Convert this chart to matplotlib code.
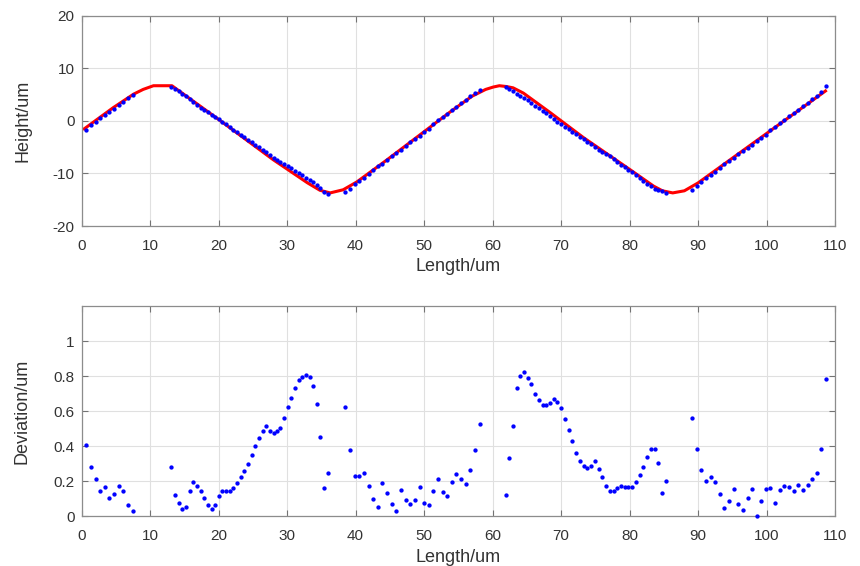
import matplotlib
matplotlib.use('Agg')
import matplotlib.pyplot as plt
from matplotlib.ticker import FormatStrFormatter

plt.rcParams['font.family'] = ['Liberation Sans', 'DejaVu Sans']
plt.rcParams['axes.unicode_minus'] = False

# fitted profile (red line)
fit_x = [0.4, 4.6, 7.6, 9.0, 10.5, 13.2, 20.2, 28.0, 33.0, 34.8, 36.3, 38.2, 40.2,
         44.6, 53.8, 57.0, 59.0, 60.1, 61.0, 62.0, 63.0, 64.5, 68.4, 73.3, 80.1,
         83.5, 84.8, 86.3, 88.0, 90.0, 108.6]
fit_y = [-1.5, 2.5, 5.1, 6.0, 6.7, 6.7, 0.1, -7.4, -11.8, -13.2, -13.7, -13.1, -11.6,
         -7.4, 1.7, 4.7, 6.0, 6.45, 6.7, 6.55, 6.3, 5.3, 1.6, -3.2, -9.3,
         -12.4, -13.3, -13.7, -13.3, -11.8, 5.7]

# measured points (blue dots)
meas_x = [0.66, 1.39, 2.07, 2.75, 3.38, 4.06, 4.75, 5.43, 6.10, 6.79, 7.47,
          13.07, 13.65, 14.18, 14.72, 15.25, 15.79, 16.33, 16.86, 17.40, 17.93,
          18.47, 19.00, 19.54, 20.02, 20.56, 21.10, 21.63, 22.17, 22.70, 23.24,
          23.77, 24.31, 24.84, 25.38, 25.91, 26.45, 26.98, 27.52, 28.05, 28.59,
          29.03, 29.56, 30.10, 30.63, 31.17, 31.70, 32.24, 32.77, 33.31, 33.84,
          34.38, 34.86, 35.45, 35.98,
          38.52, 39.20, 39.88, 40.56, 41.24, 41.92, 42.60, 43.28, 43.92, 44.60,
          45.28, 45.96, 46.64, 47.32, 48.00, 48.69, 49.37, 50.05, 50.68, 51.36,
          52.04, 52.72, 53.40, 54.08, 54.71, 55.39, 56.07, 56.75, 57.44, 58.12,
          61.92, 62.46, 62.95, 63.53, 64.06, 64.60, 65.13, 65.67, 66.25, 66.79,
          67.33, 67.86, 68.40, 68.93, 69.47, 70.05, 70.58, 71.12, 71.65, 72.19,
          72.77, 73.30, 73.84, 74.37, 74.96, 75.49, 76.03, 76.57, 77.10, 77.69,
          78.23, 78.76, 79.30, 79.83, 80.37, 80.95, 81.49, 82.02, 82.61, 83.14,
          83.68, 84.22, 84.80, 85.33,
          89.12, 89.80, 90.48, 91.16, 91.84, 92.48, 93.16, 93.84, 94.52, 95.20,
          95.88, 96.56, 97.25, 97.93, 98.56, 99.20, 99.88, 100.56, 101.24, 101.92,
          102.60, 103.28, 103.96, 104.65, 105.33, 106.01, 106.69, 107.37, 108.00,
          108.68]
meas_h = [-1.67, -0.87, -0.18, 0.51, 1.06, 1.76, 2.36, 2.94, 3.58, 4.30, 4.95,
          6.42, 6.15, 5.70, 5.21, 4.70, 4.09, 3.53, 3.04, 2.55, 2.08,
          1.62, 1.13, 0.72, 0.31, -0.16, -0.68, -1.19, -1.69, -2.16, -2.65,
          -3.11, -3.59, -4.04, -4.51, -4.96, -5.44, -5.91, -6.46, -6.97, -7.43,
          -7.80, -8.22, -8.64, -9.05, -9.47, -9.88, -10.34, -10.79, -11.24, -11.71,
          -12.23, -12.77, -13.58, -13.84,
          -13.55, -12.90, -12.07, -11.48, -10.84, -10.10, -9.37, -8.66, -8.18, -7.47,
          -6.74, -6.04, -5.50, -4.78, -4.10, -3.46, -2.87, -2.12, -1.49, -0.63,
          0.11, 0.69, 1.33, 2.07, 2.72, 3.35, 3.99, 4.73, 5.37, 5.96,
          6.40, 6.08, 5.79, 5.22, 4.79, 4.38, 3.90, 3.41, 2.91, 2.42,
          1.94, 1.43, 0.88, 0.35, -0.15, -0.68, -1.12, -1.58, -2.04, -2.49,
          -3.01, -3.49, -3.97, -4.46, -5.02, -5.45, -5.90, -6.32, -6.77, -7.31,
          -7.82, -8.30, -8.79, -9.27, -9.76, -10.30, -10.83, -11.36, -11.95, -12.47,
          -12.91, -13.21, -13.43, -13.64,
          -13.10, -12.34, -11.62, -10.91, -10.29, -9.67, -8.96, -8.24, -7.64, -7.06,
          -6.34, -5.67, -5.08, -4.49, -3.75, -3.24, -2.67, -1.71, -1.15, -0.44,
          0.22, 0.86, 1.47, 2.16, 2.77, 3.44, 4.11, 4.79, 5.52,
          6.56]
deviation = [0.41, 0.283, 0.211, 0.145, 0.166, 0.103, 0.126, 0.175, 0.145, 0.063, 0.030,
             0.283, 0.122, 0.074, 0.040, 0.055, 0.145, 0.194, 0.171, 0.147, 0.106,
             0.063, 0.044, 0.063, 0.114, 0.147, 0.147, 0.145, 0.160, 0.190, 0.225,
             0.259, 0.300, 0.350, 0.403, 0.446, 0.489, 0.516, 0.487, 0.474, 0.487,
             0.506, 0.560, 0.623, 0.678, 0.731, 0.777, 0.794, 0.807, 0.797, 0.741,
             0.644, 0.451, 0.160, 0.247,
             0.623, 0.379, 0.232, 0.232, 0.249, 0.171, 0.097, 0.053, 0.192, 0.135,
             0.072, 0.034, 0.149, 0.093, 0.069, 0.095, 0.167, 0.078, 0.063, 0.143,
             0.215, 0.137, 0.118, 0.196, 0.243, 0.211, 0.186, 0.265, 0.379, 0.526,
             0.120, 0.335, 0.518, 0.731, 0.800, 0.821, 0.792, 0.758, 0.699, 0.666,
             0.634, 0.634, 0.649, 0.670, 0.653, 0.617, 0.554, 0.493, 0.430, 0.360,
             0.316, 0.286, 0.276, 0.288, 0.316, 0.272, 0.225, 0.173, 0.143, 0.143,
             0.164, 0.171, 0.170, 0.170, 0.166, 0.194, 0.234, 0.283, 0.341, 0.386,
             0.386, 0.305, 0.131, 0.200,
             0.563, 0.385, 0.266, 0.200, 0.223, 0.198, 0.129, 0.047, 0.086, 0.154,
             0.070, 0.036, 0.103, 0.154, 0.000, 0.086, 0.158, 0.160, 0.078, 0.150,
             0.173, 0.166, 0.143, 0.179, 0.150, 0.181, 0.211, 0.247, 0.385,
             0.785]

x_ticks = list(range(0, 111, 10))
h_ticks = [-20, -10, 0, 10, 20]
d_ticks = [0, 0.2, 0.4, 0.6, 0.8, 1.0]

fig = plt.figure(figsize=(8.6, 5.66), dpi=100)
ax1 = fig.add_axes([0.0948, 0.6007, 0.8762, 0.3713])
ax2 = fig.add_axes([0.0948, 0.0875, 0.8762, 0.3719])

def matlab_style(ax):
    ax.grid(True, color='0.88', linewidth=0.8)
    ax.set_axisbelow(True)
    for s in ax.spines.values():
        s.set_color('0.55')
        s.set_linewidth(0.9)
    ax.tick_params(direction='in', length=4, width=0.8, color='0.45',
                   top=True, right=True, labelsize=11, labelcolor='0.2')
    ax.tick_params(axis='x', pad=9)
    ax.tick_params(axis='y', pad=5)
    ax.set_xticks(x_ticks)
    ax.set_xlim(0, 110)
    ax.set_xlabel('Length/um', fontsize=13, color='0.2', labelpad=4)

ax1.plot(fit_x, fit_y, color='red', linewidth=2.2, zorder=2)
ax1.plot(meas_x, meas_h, linestyle='none', marker='o', markersize=2.1,
         color='blue', zorder=3)
matlab_style(ax1)
ax1.set_ylim(-20, 20)
ax1.set_yticks(h_ticks)
ax1.set_ylabel('Height/um', fontsize=13, color='0.2', labelpad=15)

ax2.plot(meas_x, deviation, linestyle='none', marker='o', markersize=2.1,
         color='blue', zorder=3, clip_on=False)
matlab_style(ax2)
ax2.set_ylim(0, 1.2)
ax2.set_yticks(d_ticks)
ax2.yaxis.set_major_formatter(FormatStrFormatter('%g'))
ax2.set_ylabel('Deviation/um', fontsize=13, color='0.2', labelpad=16.5)

fig.savefig('out.png', dpi=100)
plt.close(fig)
